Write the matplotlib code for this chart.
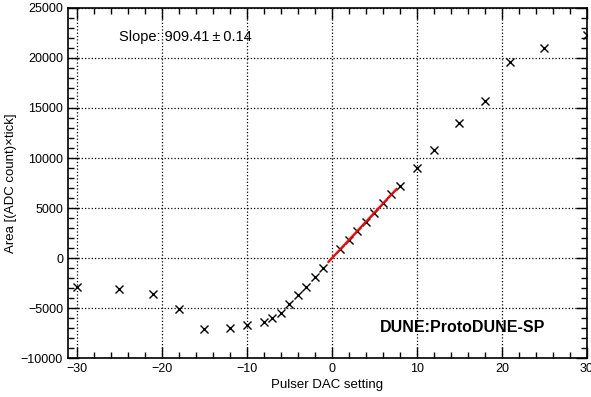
import numpy as np
import matplotlib
matplotlib.use("Agg")
import matplotlib.pyplot as plt
from matplotlib.ticker import MultipleLocator

plt.rcParams['font.family'] = ['Liberation Sans', 'DejaVu Sans']

# pulser DAC setting vs pulse area
dac = [-30, -25, -21, -18, -15, -12, -10, -8, -7, -6, -5, -4, -3, -2, -1,
       1, 2, 3, 4, 5, 6, 7, 8, 10, 12, 15, 18, 21, 25, 30]
area = [-2870, -3130, -3570, -5130, -7070, -6970, -6700, -6370, -5970, -5500,
        -4570, -3700, -2870, -1930, -970,
        900, 1800, 2700, 3600, 4500, 5470, 6400, 7200, 8970, 10800,
        13530, 15730, 19570, 21030, 22270]

# linear fit
slope = 909.41
slope_err = 0.14
intercept = -20
fit_range = [-0.4, 7.6]

fig = plt.figure(figsize=(5.91, 3.97), dpi=100)
ax = fig.add_axes([0.115, 0.098, 0.878, 0.882])

ax.plot(dac, area, 'x', color='black', markersize=5.5, markeredgewidth=1.0, zorder=3)
fx = np.array(fit_range)
ax.plot(fx, slope * fx + intercept, color='red', linewidth=1.6, zorder=4)

ax.set_xlim(-31.05, 30)
ax.set_ylim(-10000, 25000)
ax.xaxis.set_major_locator(MultipleLocator(10))
ax.xaxis.set_minor_locator(MultipleLocator(2))
ax.yaxis.set_major_locator(MultipleLocator(5000))
ax.yaxis.set_minor_locator(MultipleLocator(1000))
ax.tick_params(which='both', direction='in', top=True, right=True, labelsize=9, width=1)
ax.tick_params(which='major', length=8)
ax.tick_params(which='minor', length=4)
ax.grid(True, which='major', color='black', linestyle=':', linewidth=0.9)
for s in ax.spines.values():
    s.set_linewidth(1.2)

ax.set_xlabel("Pulser DAC setting", fontsize=9.5, labelpad=3)
ax.set_ylabel("Area [(ADC count)\u00d7tick]", fontsize=9.5, labelpad=3)

fig.text(119 / 591, 1 - 37 / 397, f"Slope: {slope:.2f}\u2009\u00b1\u2009{slope_err:.2f}",
         fontsize=10.5, va='center', ha='left')
ax.text(0.601, 0.088, "DUNE:ProtoDUNE-SP", transform=ax.transAxes,
        fontsize=11.5, fontweight='bold', va='center', ha='left')

fig.savefig("out.png", dpi=100)
